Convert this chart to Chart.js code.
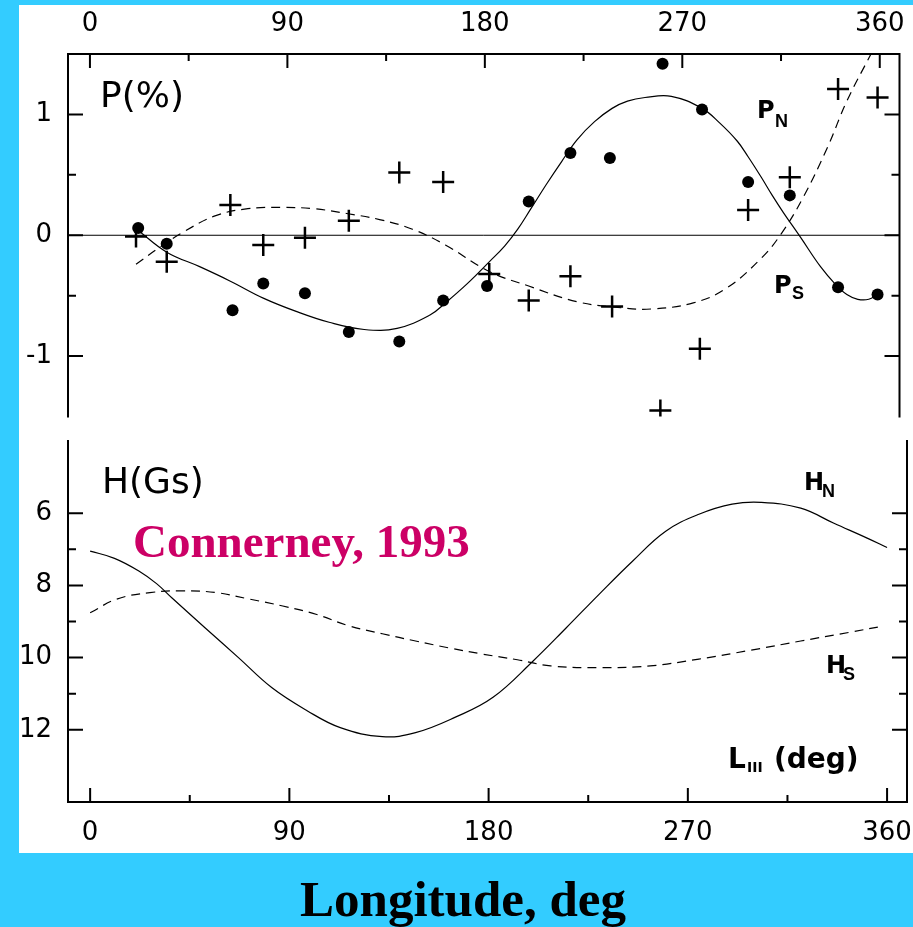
<!DOCTYPE html>
<html>
<head>
<meta charset="utf-8">
<script src="https://cdn.jsdelivr.net/npm/chart.js@4/dist/chart.umd.min.js"></script>
<style>
  html, body { margin: 0; padding: 0; }
  body { width: 913px; height: 927px; background: #33ccff; position: relative; overflow: hidden; }
  #panel { position: absolute; left: 19px; top: 5px; width: 894px; height: 848px; background: #fff; }
  canvas { position: absolute; left: 0; }
  #pChart { top: 0; }
  #hChart { top: 430px; }
  #xTitle { position: absolute; left: 0; width: 926px; top: 870px; text-align: center;
    font: bold 51px "Liberation Serif", "Times New Roman", serif; color: #000; }
</style>
</head>
<body>
<div id="panel"></div>
<canvas id="pChart" width="913" height="430"></canvas>
<canvas id="hChart" width="913" height="430"></canvas>
<div id="xTitle">Longitude, deg</div>
<script>
  // ---- tick values ----
  const lonTicks = [0, 45, 90, 135, 180, 225, 270, 315, 360];
  const pTicks = [-1, -0.5, 0, 0.5, 1];
  const hTicks = [6, 7, 8, 9, 10, 11, 12];

  // ---- P panel: measured points (longitude, %) ----
  const pnPointLon = [22, 35, 65, 79, 98, 118, 141, 161, 181, 200, 219, 237, 261, 279, 300, 319, 341, 359];
  const pnPointVal = [0.06, -0.07, -0.62, -0.40, -0.48, -0.80, -0.88, -0.54, -0.42, 0.28, 0.68, 0.64, 1.42, 1.04, 0.44, 0.33, -0.43, -0.49];
  const psPointLon = [21, 35, 64, 79, 98, 118, 141, 161, 182, 200, 219, 238, 260, 278, 300, 319, 341, 359];
  const psPointVal = [-0.01, -0.22, 0.25, -0.08, -0.02, 0.12, 0.52, 0.44, -0.32, -0.54, -0.34, -0.59, -1.45, -0.94, 0.21, 0.48, 1.21, 1.14];

  // ---- P panel: model curves ----
  const pnCurveLon = [22, 35, 50, 64, 79, 94, 109, 125, 140, 155, 162, 172, 182, 189, 195, 201, 208, 215, 222, 230, 238, 245, 253, 265, 279, 287, 295, 300, 306, 311, 316, 324, 333, 340, 345, 350, 355, 359];
  const pnCurveVal = [0.04, -0.14, -0.26, -0.38, -0.52, -0.63, -0.72, -0.78, -0.77, -0.66, -0.56, -0.40, -0.22, -0.09, 0.05, 0.22, 0.42, 0.61, 0.79, 0.94, 1.05, 1.11, 1.14, 1.15, 1.05, 0.93, 0.78, 0.65, 0.48, 0.33, 0.19, -0.02, -0.26, -0.41, -0.49, -0.53, -0.53, -0.49];
  const psCurveLon = [21, 31, 42, 57, 72, 87, 102, 117, 132, 147, 162, 182, 200, 222, 242, 256, 275, 290, 306, 315, 325, 336, 345, 356];
  const psCurveVal = [-0.24, -0.11, 0.02, 0.16, 0.22, 0.23, 0.22, 0.18, 0.13, 0.05, -0.08, -0.30, -0.42, -0.55, -0.60, -0.61, -0.56, -0.44, -0.19, 0.01, 0.31, 0.72, 1.11, 1.50];

  // ---- H panel: model curves (Gs) ----
  const hnLon = [0, 11, 22, 30, 37, 52, 67, 82, 98, 113, 132, 147, 165, 182, 200, 215, 230, 245, 260, 275, 290, 303, 321, 336, 351, 360];
  const hnVal = [7.05, 7.25, 7.6, 7.95, 8.35, 9.18, 10.0, 10.83, 11.47, 11.94, 12.19, 12.08, 11.65, 11.1, 10.1, 9.18, 8.24, 7.33, 6.5, 6.03, 5.75, 5.7, 5.86, 6.28, 6.69, 6.95];
  const hsLon = [0, 12, 27, 42, 57, 72, 87, 102, 117, 132, 147, 162, 177, 193, 208, 230, 253, 275, 298, 321, 343, 358];
  const hsVal = [8.76, 8.38, 8.2, 8.15, 8.2, 8.38, 8.57, 8.8, 9.12, 9.34, 9.54, 9.73, 9.9, 10.06, 10.23, 10.28, 10.23, 10.04, 9.8, 9.54, 9.3, 9.13];

  function pts(xs, ys) {
    return xs.map(function (x, i) { return { x: x, y: ys[i] }; });
  }

  const TICK_FONT = { family: '"DejaVu Sans", sans-serif', size: 26 };

  // inward ticks + frame, drawn from the scales' own ticks
  function frameTicks(side) {
    return {
      id: 'frameTicks',
      beforeDatasetsDraw(chart) {
        if (side !== 'top') return;
        const { ctx, chartArea: a, scales } = chart;
        const py = scales.y.getPixelForValue(0);
        ctx.save();
        ctx.strokeStyle = '#000';
        ctx.lineWidth = 1;
        ctx.beginPath();
        ctx.moveTo(a.left, py);
        ctx.lineTo(a.right, py);
        ctx.stroke();
        ctx.restore();
      },
      afterDraw(chart) {
        const { ctx, chartArea: a, scales } = chart;
        ctx.save();
        ctx.strokeStyle = '#000';
        ctx.lineWidth = 2;
        ctx.lineCap = 'square';
        ctx.beginPath();
        if (side === 'top') {
          ctx.moveTo(a.left, a.bottom);
          ctx.lineTo(a.left, a.top);
          ctx.lineTo(a.right, a.top);
          ctx.lineTo(a.right, a.bottom);
        } else {
          ctx.moveTo(a.left, a.top);
          ctx.lineTo(a.left, a.bottom);
          ctx.lineTo(a.right, a.bottom);
          ctx.lineTo(a.right, a.top);
        }
        ctx.stroke();
        ctx.lineCap = 'butt';
        ctx.beginPath();
        scales.x.ticks.forEach(function (t) {
          const px = scales.x.getPixelForValue(t.value);
          const len = t.label !== '' ? 14 : 7;
          const y0 = side === 'top' ? a.top : a.bottom;
          const dir = side === 'top' ? 1 : -1;
          ctx.moveTo(px, y0);
          ctx.lineTo(px, y0 + dir * len);
        });
        scales.y.ticks.forEach(function (t) {
          const py = scales.y.getPixelForValue(t.value);
          const len = t.label !== '' ? 15 : 8;
          ctx.moveTo(a.left, py);
          ctx.lineTo(a.left + len, py);
          ctx.moveTo(a.right, py);
          ctx.lineTo(a.right - len, py);
        });
        ctx.stroke();
        ctx.restore();
      }
    };
  }

  // free text on the canvas (canvas-local coordinates)
  function textLabels(items) {
    return {
      id: 'textLabels',
      afterDraw(chart) {
        const ctx = chart.ctx;
        ctx.save();
        ctx.textBaseline = 'alphabetic';
        ctx.textAlign = 'left';
        items.forEach(function (it) {
          ctx.font = it.font;
          ctx.fillStyle = it.color || '#000';
          ctx.fillText(it.text, it.x, it.y);
        });
        ctx.restore();
      }
    };
  }

  function noPad(s) {
    s.paddingTop = 0;
    s.paddingBottom = 0;
    s.paddingLeft = 0;
    s.paddingRight = 0;
  }

  function lonAxis(position, height, padding) {
    return {
      type: 'linear',
      position: position,
      min: -10,
      max: 369,
      afterBuildTicks: function (s) { s.ticks = lonTicks.map(function (v) { return { value: v }; }); },
      afterFit: function (s) { s.height = height; noPad(s); },
      grid: { display: false, drawTicks: false },
      border: { display: false },
      ticks: {
        autoSkip: false,
        maxRotation: 0,
        padding: padding,
        color: '#000',
        font: TICK_FONT,
        callback: function (v) { return v % 90 === 0 ? String(v) : ''; }
      }
    };
  }

  function valAxis(tickVals, min, max, reverse, showLabel) {
    return {
      type: 'linear',
      position: 'left',
      min: min,
      max: max,
      reverse: reverse,
      afterBuildTicks: function (s) { s.ticks = tickVals.map(function (v) { return { value: v }; }); },
      afterFit: function (s) { s.width = 68; noPad(s); },
      grid: { display: false, drawTicks: false },
      border: { display: false },
      ticks: {
        autoSkip: false,
        padding: 16,
        color: '#000',
        font: TICK_FONT,
        callback: function (v) { return showLabel(v) ? String(v) : ''; }
      }
    };
  }

  const curveStyle = {
    showLine: true,
    pointRadius: 0,
    borderColor: '#000',
    borderWidth: 1.2,
    tension: 0.4
  };

  const BIG = '36px "DejaVu Sans", sans-serif';
  const SUB = 'bold 24px "DejaVu Sans", sans-serif';
  const SUBS = 'bold 18px "Liberation Sans", sans-serif';

  new Chart(document.getElementById('pChart').getContext('2d'), {
    type: 'scatter',
    data: {
      datasets: [
        Object.assign({ label: 'PN model', data: pts(pnCurveLon, pnCurveVal) }, curveStyle),
        Object.assign({ label: 'PS model', data: pts(psCurveLon, psCurveVal), borderDash: [9, 6] }, curveStyle),
        {
          label: 'PN',
          data: pts(pnPointLon, pnPointVal),
          pointStyle: 'circle',
          pointRadius: 6,
          backgroundColor: '#000',
          borderWidth: 0
        },
        {
          label: 'PS',
          data: pts(psPointLon, psPointVal),
          pointStyle: 'cross',
          pointRadius: 11,
          borderColor: '#000',
          borderWidth: 2.5
        }
      ]
    },
    options: {
      responsive: false,
      animation: false,
      devicePixelRatio: 1,
      layout: { padding: { left: 0, right: 6, top: 0, bottom: 13 } },
      plugins: { legend: { display: false }, tooltip: { enabled: false } },
      scales: {
        x: lonAxis('top', 54, 14),
        y: valAxis(pTicks, -1.5, 1.5, false, function (v) { return Number.isInteger(v); })
      }
    },
    plugins: [
      frameTicks('top'),
      textLabels([
        { text: 'P(%)', x: 100, y: 107, font: BIG },
        { text: 'P', x: 757, y: 118, font: SUB },
        { text: 'N', x: 775, y: 127, font: SUBS },
        { text: 'P', x: 774, y: 293, font: SUB },
        { text: 'S', x: 792, y: 299, font: SUBS }
      ])
    ]
  });

  new Chart(document.getElementById('hChart').getContext('2d'), {
    type: 'scatter',
    data: {
      datasets: [
        Object.assign({ label: 'HN', data: pts(hnLon, hnVal) }, curveStyle),
        Object.assign({ label: 'HS', data: pts(hsLon, hsVal), borderDash: [9, 6] }, curveStyle)
      ]
    },
    options: {
      responsive: false,
      animation: false,
      devicePixelRatio: 1,
      layout: { padding: { left: 0, right: 6, top: 11, bottom: 0 } },
      plugins: { legend: { display: false }, tooltip: { enabled: false } },
      scales: {
        x: lonAxis('bottom', 58, 16),
        y: valAxis(hTicks, 4, 14, true, function (v) { return v % 2 === 0; })
      }
    },
    plugins: [
      frameTicks('bottom'),
      textLabels([
        { text: 'H(Gs)', x: 102, y: 63, font: BIG },
        { text: 'Connerney, 1993', x: 133, y: 127, font: 'bold 47px "Liberation Serif", serif', color: '#cc0066' },
        { text: 'H', x: 804, y: 60, font: SUB },
        { text: 'N', x: 822, y: 67, font: SUBS },
        { text: 'H', x: 826, y: 243, font: SUB },
        { text: 'S', x: 843, y: 250, font: SUBS },
        { text: 'L', x: 728, y: 338, font: 'bold 28px "DejaVu Sans", sans-serif' },
        { text: 'III', x: 747, y: 342, font: 'bold 14px "DejaVu Sans", sans-serif' },
        { text: '(deg)', x: 774, y: 338, font: 'bold 28px "DejaVu Sans", sans-serif' }
      ])
    ]
  });
</script>
</body>
</html>
